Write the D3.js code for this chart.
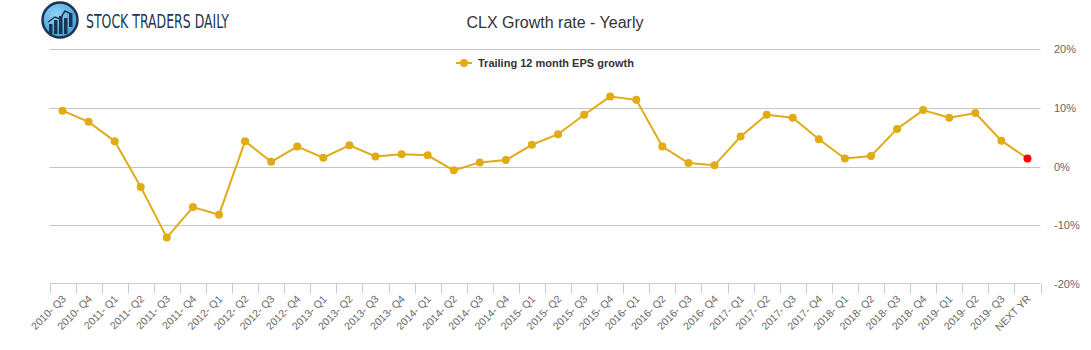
<!DOCTYPE html>
<html lang="en">
<head>
  <meta charset="UTF-8">
  <title>CLX Growth rate - Yearly</title>
  <script src="https://d3js.org/d3.v7.min.js"></script>
  <style>
    body {
      margin: 0;
      background: #fff;
      font-family: 'Liberation Sans', Arial, sans-serif;
    }
  </style>
</head>
<body>
  <script>
    var quarters = [
      "2010- Q3", "2010- Q4", "2011- Q1", "2011- Q2", "2011- Q3", "2011- Q4",
      "2012- Q1", "2012- Q2", "2012- Q3", "2012- Q4", "2013- Q1", "2013- Q2",
      "2013- Q3", "2013- Q4", "2014- Q1", "2014- Q2", "2014- Q3", "2014- Q4",
      "2015- Q1", "2015- Q2", "2015- Q3", "2015- Q4", "2016- Q1", "2016- Q2",
      "2016- Q3", "2016- Q4", "2017- Q1", "2017- Q2", "2017- Q3", "2017- Q4",
      "2018- Q1", "2018- Q2", "2018- Q3", "2018- Q4", "2019- Q1", "2019- Q2",
      "2019- Q3", "NEXT YR"
    ];
    var epsGrowth = [
      9.5, 7.6, 4.3, -3.5, -12.1, -6.9,
      -8.2, 4.3, 0.8, 3.4, 1.5, 3.6,
      1.7, 2.1, 1.9, -0.65, 0.7, 1.1,
      3.7, 5.5, 8.8, 11.9, 11.35, 3.4,
      0.6, 0.2, 5.1, 8.8, 8.3, 4.65,
      1.36, 1.8, 6.4, 9.6, 8.3, 9.1,
      4.4, 1.36
    ];
    var yTicks = [-20, -10, 0, 10, 20];

    var width = 1091, height = 350;
    var plotLeft = 49.5, plotRight = 1040.5, plotTop = 49, plotBottom = 284;

    var svg = d3.select('body').append('svg')
      .attr('width', width)
      .attr('height', height);

    var x = d3.scaleBand().domain(quarters).range([plotLeft, plotRight]);
    var y = d3.scaleLinear().domain([-20, 20]).range([plotBottom, plotTop]);

    // grid lines
    svg.append('g')
      .selectAll('line')
      .data(yTicks.filter(d => d !== -20))
      .join('line')
      .attr('x1', plotLeft)
      .attr('x2', plotRight)
      .attr('y1', d => Math.round(y(d)) + 0.5)
      .attr('y2', d => Math.round(y(d)) + 0.5)
      .attr('stroke', '#c4c4c4')
      .attr('stroke-width', 1);

    // y labels on the right
    svg.append('g')
      .selectAll('text')
      .data(yTicks)
      .join('text')
      .attr('x', 1054)
      .attr('y', d => y(d) + 4)
      .attr('font-size', 11)
      .attr('fill', '#666')
      .text(d => d + '%');

    // x axis
    var xAxis = svg.append('g')
      .attr('transform', 'translate(0,' + (plotBottom - 0.5) + ')');
    xAxis.append('line')
      .attr('x1', plotLeft).attr('x2', plotRight)
      .attr('stroke', '#c0cfdf');
    xAxis.selectAll('.tick')
      .data(d3.range(quarters.length + 1))
      .join('line')
      .attr('class', 'tick')
      .attr('x1', i => Math.round(plotLeft + i * x.step()) + 0.5)
      .attr('x2', i => Math.round(plotLeft + i * x.step()) + 0.5)
      .attr('y1', 0).attr('y2', 10)
      .attr('stroke', '#c0cfdf');
    xAxis.selectAll('.lbl')
      .data(quarters)
      .join('text')
      .attr('class', 'lbl')
      .attr('text-anchor', 'end')
      .attr('font-size', 10.5)
      .attr('fill', '#666')
      .attr('transform', d => 'translate(' + (x(d) + x.bandwidth() / 2 + 4) + ',16) rotate(-45)')
      .text(d => d);

    // line
    var cx = (d, i) => x(quarters[i]) + x.bandwidth() / 2;
    var line = d3.line()
      .x(cx)
      .y(d => y(d));
    svg.append('path')
      .datum(epsGrowth)
      .attr('d', line)
      .attr('fill', 'none')
      .attr('stroke', '#e0ab16')
      .attr('stroke-width', 2);

    svg.append('g')
      .selectAll('circle')
      .data(epsGrowth)
      .join('circle')
      .attr('cx', cx)
      .attr('cy', d => y(d))
      .attr('r', 4)
      .attr('fill', (d, i) => i === epsGrowth.length - 1 ? '#ff0000' : '#e0ab16');

    // title
    svg.append('text')
      .attr('x', 555)
      .attr('y', 28)
      .attr('text-anchor', 'middle')
      .attr('font-size', 16)
      .attr('fill', '#333')
      .text('CLX Growth rate - Yearly');

    // legend
    var legend = svg.append('g').attr('transform', 'translate(456,63)');
    legend.append('line')
      .attr('x1', 0).attr('x2', 16)
      .attr('stroke', '#e0ab16').attr('stroke-width', 2);
    legend.append('circle')
      .attr('cx', 8).attr('r', 4).attr('fill', '#e0ab16');
    legend.append('text')
      .attr('x', 22).attr('y', 4)
      .attr('font-size', 11)
      .attr('font-weight', 'bold')
      .attr('fill', '#333')
      .text('Trailing 12 month EPS growth');

    // logo
    var logo = svg.append('g').attr('transform', 'translate(60,20)');
    var grad = svg.append('defs').append('radialGradient')
      .attr('id', 'logoGrad').attr('cx', '40%').attr('cy', '35%').attr('r', '70%');
    grad.append('stop').attr('offset', '0%').attr('stop-color', '#8fd3f7');
    grad.append('stop').attr('offset', '100%').attr('stop-color', '#3b9fd8');
    logo.append('circle')
      .attr('r', 17.5)
      .attr('fill', 'url(#logoGrad)')
      .attr('stroke', '#1d3552')
      .attr('stroke-width', 2.5);
    var bars = [[-11, 4, 10], [-6, 0, 14], [-1, -4, 18], [4, -2, 16], [9, -7, 14]];
    logo.selectAll('rect')
      .data(bars)
      .join('rect')
      .attr('x', d => d[0])
      .attr('y', d => d[1])
      .attr('width', 3.5)
      .attr('height', d => d[2])
      .attr('fill', '#1d3552');
    logo.append('path')
      .attr('d', 'M-12,2 L-5,-3 L0,-1 L5,-9 L11,-6')
      .attr('fill', 'none')
      .attr('stroke', '#1d3552')
      .attr('stroke-width', 1.5);
    logo.append('text')
      .attr('x', 26)
      .attr('y', 7.5)
      .attr('font-family', "'Liberation Sans Narrow', 'DejaVu Sans Condensed', sans-serif")
      .attr('font-size', 20)
      .attr('fill', '#1d3552')
      .attr('textLength', 143)
      .attr('lengthAdjust', 'spacingAndGlyphs')
      .text('STOCK TRADERS DAILY');
  </script>
</body>
</html>
